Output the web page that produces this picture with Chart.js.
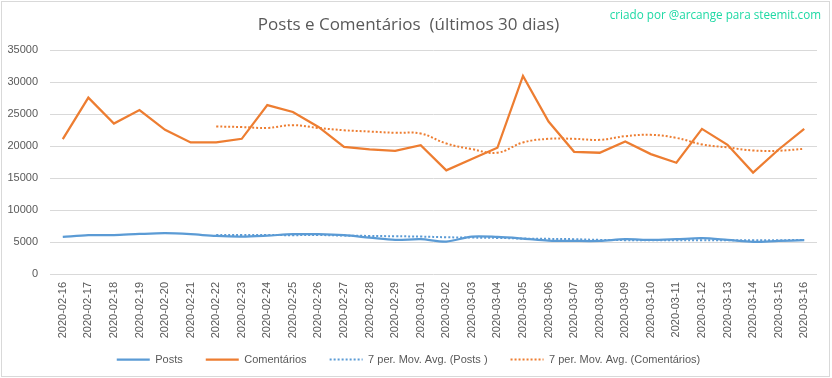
<!DOCTYPE html>
<html>
<head>
<meta charset="utf-8">
<script src="https://cdn.jsdelivr.net/npm/chart.js@4/dist/chart.umd.min.js"></script>
<style>
  html, body { margin: 0; padding: 0; background: #fff; }
  #wrap { position: relative; width: 832px; height: 378px; }
  #frame { position: absolute; left: 1px; top: 1px; width: 827px; height: 374px; border: 1px solid #d9d9d9; pointer-events: none; }
  #credit { position: absolute; right: 11px; top: 6px; font: 11.7px "Open Sans", sans-serif; color: #1ed9a4; white-space: nowrap; }
  canvas { display: block; }
</style>
</head>
<body>
<div id="wrap">
  <canvas id="chart" width="832" height="378"></canvas>
  <div id="frame"></div>
  <div id="credit">criado por @arcange para steemit.com</div>
</div>
<script>
// dias
const dates = [
  '2020-02-16', '2020-02-17', '2020-02-18', '2020-02-19', '2020-02-20', '2020-02-21',
  '2020-02-22', '2020-02-23', '2020-02-24', '2020-02-25', '2020-02-26', '2020-02-27',
  '2020-02-28', '2020-02-29', '2020-03-01', '2020-03-02', '2020-03-03', '2020-03-04',
  '2020-03-05', '2020-03-06', '2020-03-07', '2020-03-08', '2020-03-09', '2020-03-10',
  '2020-03-11', '2020-03-12', '2020-03-13', '2020-03-14', '2020-03-15', '2020-03-16'
];

const posts = [
  5800, 6070, 6100, 6270, 6380, 6230, 5960, 5860, 6010, 6230,
  6230, 6070, 5700, 5340, 5440, 5080, 5860, 5800, 5550, 5240,
  5180, 5180, 5450, 5340, 5450, 5600, 5340, 5030, 5180, 5290
];

const comentarios = [
  21100, 27600, 23540, 25670, 22560, 20590, 20600, 21160, 26440, 25360,
  23020, 19910, 19500, 19290, 20170, 16230, 17990, 19760, 31010, 23860,
  19130, 18980, 20750, 18770, 17420, 22710, 20220, 15870, 19490, 22710
];

// médias móveis (7 períodos)
const postsAvg = [
  null, null, null, null, null, null, 6110, 6100, 6100, 6080,
  6100, 6010, 5960, 5910, 5860, 5750, 5700, 5650, 5550, 5500,
  5450, 5340, 5300, 5290, 5290, 5290, 5290, 5290, 5290, 5340
];

const comentariosAvg = [
  null, null, null, null, null, null, 23090, 23000, 22860, 23300,
  22860, 22500, 22300, 22100, 21990, 20430, 19550, 18980, 20590, 21160,
  21160, 21000, 21570, 21780, 21310, 20280, 19810, 19340, 19290, 19600
];

const yTicks = [0, 5000, 10000, 15000, 20000, 25000, 30000, 35000];

const blue = '#5b9bd5';
const orange = '#ed7d31';
const textGray = '#595959';
const gridGray = '#d9d9d9';
const fontFamily = '"Liberation Sans", sans-serif';

// légende plus aérée sans manger la place des dates
const legendNudge = {
  id: 'legendNudge',
  afterInit(chart) {
    const lg = chart.legend;
    const fit = lg.fit.bind(lg);
    lg.fit = () => { fit(); lg.height = 40; };
  },
  afterLayout(chart) {
    chart.legend.top -= 7;
    chart.legend.bottom -= 7;
  }
};

new Chart(document.getElementById('chart'), {
  type: 'line',
  data: {
    labels: dates,
    datasets: [
      {
        label: 'Posts',
        data: posts,
        borderColor: blue,
        backgroundColor: blue,
        borderWidth: 2.25,
        pointRadius: 0,
        tension: 0.3
      },
      {
        label: 'Comentários',
        data: comentarios,
        borderColor: orange,
        backgroundColor: orange,
        borderWidth: 2.25,
        pointRadius: 0,
        tension: 0
      },
      {
        label: '7 per. Mov. Avg. (Posts )',
        data: postsAvg,
        borderColor: blue,
        backgroundColor: blue,
        borderWidth: 2,
        borderDash: [2, 2],
        pointRadius: 0,
        tension: 0.4
      },
      {
        label: '7 per. Mov. Avg. (Comentários)',
        data: comentariosAvg,
        borderColor: orange,
        backgroundColor: orange,
        borderWidth: 2,
        borderDash: [2, 2],
        pointRadius: 0,
        tension: 0.4
      }
    ]
  },
  plugins: [legendNudge],
  options: {
    responsive: false,
    animation: false,
    layout: { padding: { left: 0, right: 15, top: 0, bottom: 0 } },
    plugins: {
      title: {
        display: true,
        text: 'Posts e Comentários  (últimos 30 dias)',
        color: textGray,
        font: { family: '"Open Sans", sans-serif', size: 17, weight: 'normal' },
        padding: { top: 15, bottom: 15 }
      },
      legend: {
        position: 'bottom',
        labels: {
          color: textGray,
          font: { family: fontFamily, size: 11 },
          usePointStyle: true,
          pointStyle: 'line',
          pointStyleWidth: 33,
          boxHeight: 11,
          padding: 23,
          // les traits pointillés ne passent pas tout seuls dans la légende
          generateLabels: chart => {
            const items = Chart.defaults.plugins.legend.labels.generateLabels(chart);
            items.forEach(item => {
              const ds = chart.data.datasets[item.datasetIndex];
              item.strokeStyle = ds.borderColor;
              item.lineWidth = ds.borderWidth;
              item.lineDash = ds.borderDash || [];
            });
            return items;
          }
        }
      },
      tooltip: { enabled: false }
    },
    scales: {
      x: {
        offset: true,
        grid: { display: false, drawTicks: false },
        border: { display: false },
        ticks: {
          color: textGray,
          font: { family: fontFamily, size: 11 },
          minRotation: 90,
          maxRotation: 90,
          autoSkip: false,
          padding: 8
        },
        afterFit: scale => { scale.height = 64; }
      },
      y: {
        min: 0,
        max: 35000,
        afterBuildTicks: scale => { scale.ticks = yTicks.map(v => ({ value: v })); },
        grid: { color: gridGray, lineWidth: 1, drawTicks: false },
        border: { display: false },
        ticks: {
          color: textGray,
          font: { family: fontFamily, size: 11 },
          padding: 12,
          callback: v => String(v)
        },
        afterFit: scale => { scale.width = 50; }
      }
    }
  }
});
</script>
</body>
</html>
